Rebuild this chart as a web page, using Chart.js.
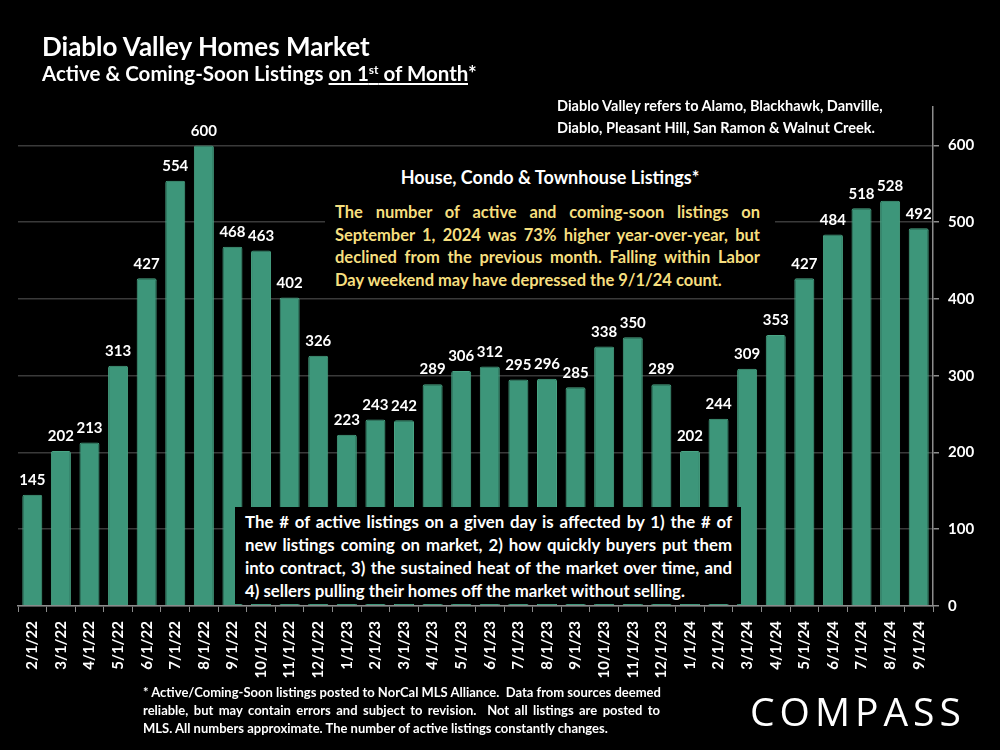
<!DOCTYPE html>
<html>
<head>
<meta charset="utf-8">
<script src="https://cdn.jsdelivr.net/npm/chart.js@4.4.0/dist/chart.umd.min.js"></script>
<style>
  html, body { margin: 0; padding: 0; background: #000; }
  #wrap { position: relative; width: 1000px; height: 750px; background: #000; overflow: hidden; font-family: Lato, 'Open Sans', sans-serif; color: #fff; font-weight: bold; }
  #chart { position: absolute; left: 0; top: 0; }
  .abs { position: absolute; }
  .jl { text-align: justify; text-align-last: justify; white-space: nowrap; }
  .title { left: 42px; top: 30px; font-size: 26px; }
  .sub { left: 42px; top: 61px; font-size: 20.5px; }
  .sub u { text-underline-offset: 2px; }
  .sub sup { font-size: 12px; vertical-align: 7px; line-height: 0; }
  .note { left: 557px; top: 95px; font-size: 14.5px; line-height: 22px; }
  .boxTop { left: 325px; top: 160px; width: 450px; height: 132px; background: #000; }
  .boxTop .h { position: absolute; left: 0; width: 450px; top: 6px; text-align: center; font-size: 18px; }
  .boxTop .y { position: absolute; left: 10px; width: 425px; top: 41px; color: #f6df7f; font-size: 16.5px; line-height: 22.5px; }
  .boxBot { left: 235px; top: 507px; width: 506px; height: 97px; background: #000; }
  .boxBot .t { position: absolute; left: 10px; width: 487px; top: 3px; font-size: 16.8px; line-height: 23px; }
  .foot { left: 143px; top: 683px; width: 517px; font-size: 13px; line-height: 18px; }
  .logo { left: 750px; top: 684px; font-size: 39px; letter-spacing: 5px; font-family: 'Open Sans', Lato, sans-serif; font-weight: 400; }
</style>
</head>
<body>
<div id="wrap">
  <canvas id="chart" width="1000" height="750"></canvas>
  <div class="abs title">Diablo Valley Homes Market</div>
  <div class="abs sub">Active &amp; Coming-Soon Listings <u>on 1<sup>st</sup> of Month</u>*</div>
  <div class="abs note">Diablo Valley refers to Alamo, Blackhawk, Danville,<br>Diablo, Pleasant Hill, San Ramon &amp; Walnut Creek.</div>
  <div class="abs boxTop">
    <div class="h">House, Condo &amp; Townhouse Listings*</div>
    <div class="y">
      <div class="jl">The number of active and coming-soon listings on</div>
      <div class="jl">September 1, 2024 was 73% higher year-over-year, but</div>
      <div class="jl">declined from the previous month. Falling within Labor</div>
      <div>Day weekend may have depressed the 9/1/24 count.</div>
    </div>
  </div>
  <div class="abs boxBot">
    <div class="t">
      <div class="jl">The # of active listings on a given day is affected by 1) the # of</div>
      <div class="jl">new listings coming on market, 2) how quickly buyers put them</div>
      <div class="jl">into contract, 3) the sustained heat of the market over time, and</div>
      <div>4) sellers pulling their homes off the market without selling.</div>
    </div>
  </div>
  <div class="abs foot">
    <div class="jl">* Active/Coming-Soon listings posted to NorCal MLS Alliance.&nbsp; Data from sources deemed</div>
    <div class="jl">reliable, but may contain errors and subject to revision.&nbsp; Not all listings are posted to</div>
    <div>MLS. All numbers approximate. The number of active listings constantly changes.</div>
  </div>
  <div class="abs logo">COMPASS</div>
</div>
<script>
  const months = [
    '2/1/22', '3/1/22', '4/1/22', '5/1/22', '6/1/22', '7/1/22', '8/1/22', '9/1/22',
    '10/1/22', '11/1/22', '12/1/22', '1/1/23', '2/1/23', '3/1/23', '4/1/23', '5/1/23',
    '6/1/23', '7/1/23', '8/1/23', '9/1/23', '10/1/23', '11/1/23', '12/1/23', '1/1/24',
    '2/1/24', '3/1/24', '4/1/24', '5/1/24', '6/1/24', '7/1/24', '8/1/24', '9/1/24'
  ];
  const listings = [
    145, 202, 213, 313, 427, 554, 600, 468,
    463, 402, 326, 223, 243, 242, 289, 306,
    312, 295, 296, 285, 338, 350, 289, 202,
    244, 309, 353, 427, 484, 518, 528, 492
  ];
  const yTicks = [0, 100, 200, 300, 400, 500, 600];

  const FONT = 'Lato, "Open Sans", sans-serif';
  const axisGray = '#8c8c8c';

  // value labels above each bar
  const barLabels = {
    id: 'barLabels',
    afterDatasetsDraw(chart) {
      const ctx = chart.ctx;
      const meta = chart.getDatasetMeta(0);
      ctx.save();
      ctx.fillStyle = '#fff';
      ctx.font = `bold 15px ${FONT}`;
      ctx.textAlign = 'center';
      ctx.textBaseline = 'bottom';
      meta.data.forEach((bar, i) => {
        ctx.fillText(String(listings[i]), bar.x, bar.y - 7);
      });
      ctx.restore();
    }
  };

  new Chart(document.getElementById('chart'), {
    type: 'bar',
    data: {
      labels: months,
      datasets: [{
        data: listings,
        backgroundColor: '#3d967a',
        borderColor: '#4aa585',
        borderWidth: 1,
        borderRadius: 2,
        borderSkipped: 'bottom',
        barPercentage: 0.7,
        categoryPercentage: 1
      }]
    },
    options: {
      responsive: false,
      animation: false,
      layout: { padding: { left: 18, top: 107, right: 0, bottom: 0 } },
      plugins: { legend: { display: false }, tooltip: { enabled: false } },
      scales: {
        x: {
          grid: { display: true, drawOnChartArea: false, offset: true, color: axisGray, tickLength: 6 },
          border: { color: axisGray, width: 1.5 },
          ticks: {
            color: '#fff', font: { family: FONT, size: 15, weight: 'bold' },
            minRotation: 90, maxRotation: 90, autoSkip: false, padding: 9
          },
          afterFit: s => { s.height = 144; }
        },
        y: {
          position: 'right',
          min: 0,
          max: 650,
          afterBuildTicks: s => { s.ticks = yTicks.map(v => ({ value: v })); },
          ticks: { color: '#fff', font: { family: FONT, size: 15, weight: 'bold' }, padding: 9 },
          grid: { color: '#3a3a3a', lineWidth: 1.5, tickColor: axisGray, tickLength: 6 },
          border: { color: axisGray, width: 1.5 },
          afterFit: s => { s.width = 67; }
        }
      }
    },
    plugins: [barLabels]
  });
</script>
</body>
</html>
